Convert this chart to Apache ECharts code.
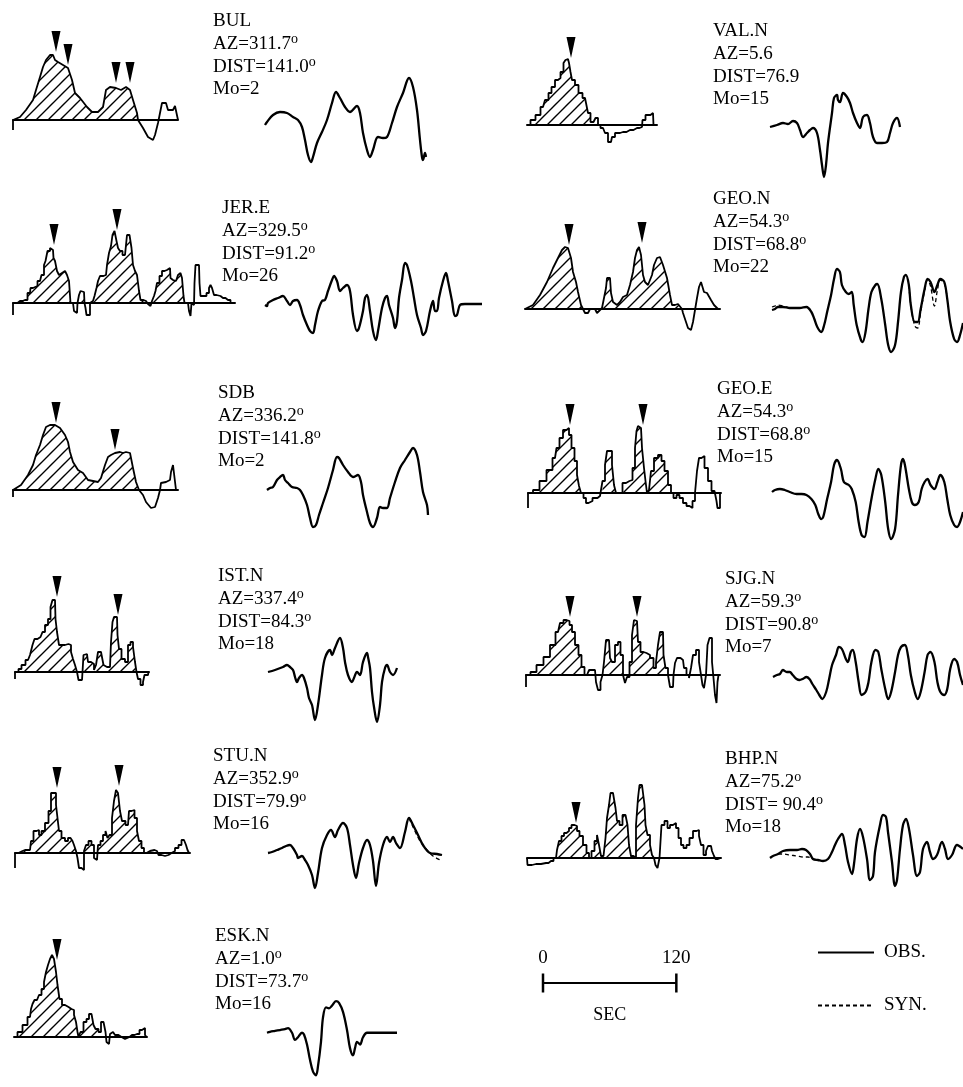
<!DOCTYPE html>
<html><head><meta charset="utf-8">
<script src="https://cdn.jsdelivr.net/npm/echarts@6/dist/echarts.min.js"></script>
<style>html,body{margin:0;padding:0;background:#fff}#c{width:963px;height:1087px}</style>
</head><body><div id="c"></div>
<script>
// ---------- DATA ----------
// time values are in digitizing ticks of TICK_SEC seconds; amplitudes are relative units
const TICK_SEC = 0.9;
const STATION = ['BUL','JER.E','SDB','IST.N','STU.N','ESK.N','VAL.N','GEO.N','GEO.E','SJG.N','BHP.N'];
const AZ   = ['311.7','329.5','336.2','337.4','352.9','1.0','5.6','54.3','54.3','59.3','75.2'];
const DIST = ['141.0','91.2','141.8','84.3','79.9','73.7','76.9','68.8','68.8','90.8',' 90.4'];
const MO   = ['2','26','2','18','16','16','15','22','15','7','18'];
const DEG  = [1,1,1,1,1,1,0,1,1,1,1];
const HATCH_END = [125,171,126,122,130,86,65,157,144,143,128];

const STF_BUL = [[0,-10],[0,0],[7,3],[13,10],[20,20],[23,30],[27,43],[30,53],[33,60],[37,65],[40,65],[42,60],[45,58],[50,55],[55,52],[59,40],[62,27],[67,22],[74,13],[79,8],[85,8],[90,13],[93,30],[97,33],[103,32],[108,30],[113,33],[117,30],[120,20],[124,7],[125,0],[130,-8],[135,-17],[140,-20],[142,-15],[145,-3],[147,7],[149,17],[153,17],[155,10],[160,10],[162,14],[164,14],[165,0]];
const STF_JER = [[0,-12],[0,0],[2,0],[7,2],[12,3],[17,10],[18,15],[22,17],[27,22],[30,28],[32,38],[33,42],[36,52],[38,55],[40,53],[41,45],[43,42],[45,32],[47,28],[49,30],[51,32],[53,32],[55,28],[57,22],[58,0],[60,0],[62,-8],[64,-10],[65,0],[67,8],[68,12],[71,11],[72,0],[73,-5],[74,-12],[77,-12],[77,0],[80,2],[83,7],[84,15],[86,22],[88,27],[93,28],[95,38],[97,50],[99,57],[100,68],[103,72],[104,62],[106,55],[108,52],[111,48],[113,47],[115,68],[118,68],[119,55],[121,38],[123,32],[125,28],[127,12],[128,3],[133,2],[137,-1],[138,-3],[140,2],[142,7],[143,12],[145,20],[148,27],[150,32],[153,33],[155,32],[157,35],[158,25],[160,23],[163,22],[167,28],[168,30],[170,25],[171,7],[172,0],[175,0],[177,-8],[178,-13],[179,0],[181,-2],[182,20],[183,38],[186,38],[187,20],[188,7],[192,7],[195,10],[197,15],[198,18],[200,15],[202,8],[205,7],[210,5],[215,3],[220,0],[222,0]];
const STF_SDB = [[0,-7],[0,0],[2,0],[8,5],[15,15],[20,25],[23,35],[27,45],[30,55],[33,63],[37,65],[42,65],[47,62],[52,55],[55,48],[57,38],[60,28],[65,20],[70,17],[75,10],[80,9],[85,8],[88,12],[92,25],[95,33],[98,35],[102,37],[107,38],[110,37],[113,38],[117,37],[120,22],[123,8],[126,0],[130,-5],[133,-12],[138,-18],[142,-17],[145,-8],[147,0],[148,7],[153,8],[157,10],[158,18],[160,25],[162,25],[163,0],[165,0]];
const STF_IST = [[0,-7],[0,0],[2,0],[5,3],[8,7],[13,12],[17,17],[18,27],[21,33],[24,35],[27,33],[28,40],[32,47],[34,53],[37,65],[38,72],[40,72],[41,53],[43,40],[45,27],[48,27],[52,28],[55,27],[57,20],[59,13],[61,7],[63,0],[64,-8],[67,-8],[68,0],[69,17],[72,18],[74,10],[78,8],[80,2],[82,7],[84,20],[88,22],[89,7],[92,5],[95,5],[97,30],[98,50],[100,55],[102,55],[103,37],[105,23],[108,13],[112,10],[114,27],[117,30],[119,25],[121,10],[122,0],[124,-7],[127,-13],[129,-10],[130,-3],[133,-3],[134,0]];
const STF_STU = [[0,-15],[0,0],[2,0],[5,2],[10,3],[15,3],[17,12],[20,22],[23,23],[25,18],[28,22],[32,30],[35,42],[37,60],[40,60],[42,48],[43,35],[45,22],[48,15],[52,12],[54,15],[57,17],[58,12],[60,8],[62,2],[63,-5],[65,-15],[68,-17],[70,2],[72,8],[75,12],[78,8],[80,-5],[82,-7],[84,8],[87,12],[89,18],[92,22],[93,15],[96,18],[98,35],[100,52],[102,63],[104,60],[106,42],[108,32],[113,28],[115,42],[118,43],[121,35],[123,22],[125,12],[128,5],[130,0],[133,2],[137,3],[142,2],[145,-2],[148,-3],[152,-2],[155,0],[158,2],[162,5],[165,8],[168,13],[170,15],[172,8],[173,3],[175,0]];
const STF_ESK = [[0,0],[1,0],[6,5],[11,12],[16,20],[18,28],[19,33],[22,37],[24,35],[26,42],[29,48],[31,55],[33,65],[35,72],[37,78],[39,82],[41,78],[43,65],[44,52],[47,38],[49,32],[53,30],[56,28],[59,27],[61,22],[63,15],[64,5],[65,0],[68,5],[71,15],[74,18],[76,23],[79,23],[80,12],[83,8],[86,5],[88,15],[91,15],[92,5],[93,-5],[95,-7],[97,3],[99,5],[103,2],[106,0],[109,-2],[113,0],[118,2],[123,3],[128,7],[130,9],[132,2],[133,0]];
const STF_VAL = [[0,0],[1,0],[6,5],[11,10],[16,18],[20,25],[23,32],[26,38],[30,45],[32,47],[35,53],[38,62],[39,65],[41,66],[43,62],[44,53],[46,45],[50,40],[53,32],[58,27],[60,22],[62,12],[65,3],[68,2],[69,7],[71,7],[71,0],[76,-3],[80,-8],[82,-17],[84,-17],[86,-12],[90,-8],[96,-7],[103,-5],[110,-3],[115,-2],[116,5],[121,10],[126,12],[127,0],[130,0]];
const STF_GEON = [[0,0],[2,0],[8,4],[15,14],[22,27],[28,41],[33,51],[37,59],[40,62],[43,61],[46,51],[48,37],[51,27],[53,17],[56,4],[58,0],[60,-4],[63,-4],[65,0],[70,0],[72,-4],[74,-4],[77,1],[79,11],[81,21],[82,31],[85,31],[86,16],[88,7],[92,4],[95,7],[98,12],[102,14],[105,24],[108,37],[110,51],[112,59],[114,62],[116,54],[118,34],[120,27],[123,24],[127,34],[129,44],[132,51],[135,52],[138,44],[142,31],[145,14],[147,4],[150,4],[153,5],[157,0],[158,-4],[161,-13],[163,-19],[166,-21],[168,-13],[170,-1],[172,11],[174,22],[176,27],[179,17],[182,16],[186,9],[189,4],[193,0],[195,0]];
const STF_GEOE = [[0,-15],[0,0],[2,0],[8,3],[15,12],[22,23],[27,35],[30,45],[33,55],[37,63],[40,65],[42,58],[45,45],[48,32],[50,18],[52,7],[54,0],[57,-5],[59,-10],[62,-8],[67,-5],[72,-3],[73,0],[76,12],[78,28],[80,42],[83,42],[85,28],[87,8],[89,0],[93,0],[96,10],[100,12],[103,13],[106,25],[108,45],[109,62],[111,67],[113,65],[115,45],[117,25],[118,12],[120,0],[122,3],[124,22],[128,35],[132,38],[135,32],[138,22],[142,8],[144,0],[147,-5],[150,-2],[153,-5],[157,-10],[160,-13],[163,-15],[166,-8],[168,0],[170,22],[172,35],[175,37],[178,25],[182,12],[185,2],[188,0],[189,-8],[190,-15],[192,-15],[192,0],[193,0]];
const STF_SJG = [[0,-12],[0,0],[2,0],[7,3],[14,10],[21,18],[27,30],[32,43],[36,52],[39,55],[42,54],[45,50],[47,43],[51,30],[54,20],[57,8],[60,0],[62,-2],[64,5],[69,5],[71,-7],[73,-15],[76,-7],[77,0],[79,13],[81,35],[83,35],[85,17],[87,13],[91,30],[93,33],[96,20],[98,0],[100,-8],[102,-2],[105,13],[107,40],[109,55],[111,54],[113,33],[116,23],[119,22],[122,20],[126,17],[129,7],[131,13],[133,30],[135,43],[137,43],[138,20],[141,7],[143,0],[145,-12],[147,-12],[148,0],[150,12],[152,17],[157,15],[159,7],[162,0],[164,-3],[166,7],[168,20],[172,25],[174,13],[176,0],[177,-10],[179,-13],[181,0],[182,30],[185,37],[187,13],[188,-3],[190,-20],[191,-28],[192,-7],[193,0],[194,0]];
const STF_BHP = [[0,0],[1,-7],[9,-6],[19,-5],[24,-3],[29,0],[31,8],[33,17],[36,22],[38,25],[41,27],[43,30],[46,33],[49,32],[51,27],[54,22],[58,13],[61,5],[63,0],[66,7],[69,17],[71,23],[73,13],[75,2],[78,0],[79,20],[81,40],[83,53],[84,65],[88,65],[89,50],[91,37],[94,33],[97,43],[100,43],[101,33],[103,13],[105,2],[108,0],[110,33],[112,60],[113,73],[117,73],[118,53],[119,33],[122,23],[124,13],[126,3],[128,0],[129,-7],[132,-10],[133,0],[136,33],[139,37],[142,30],[144,33],[148,35],[150,30],[153,20],[155,13],[158,10],[161,13],[164,20],[168,27],[171,28],[173,22],[175,13],[178,3],[180,7],[182,12],[184,12],[186,7],[188,2],[189,-1],[193,-1],[194,0]];

const ARROWS_BUL = [[43,68],[55,55],[103,37],[117,37]];
const ARROWS_JER = [[41,58],[104,73]];
const ARROWS_SDB = [[43,67],[102,40]];
const ARROWS_IST = [[42,75],[103,57]];
const ARROWS_STU = [[42,65],[104,67]];
const ARROWS_ESK = [[43,77]];
const ARROWS_VAL = [[44,67]];
const ARROWS_GEON = [[44,64],[117,66]];
const ARROWS_GEOE = [[42,68],[115,68]];
const ARROWS_SJG = [[44,58],[111,58]];
const ARROWS_BHP = [[49,35]];

const OBS_BUL = [[0,-3],[2,0],[8,7],[15,10],[22,9],[28,5],[33,2],[37,-5],[40,-18],[43,-33],[46,-40],[48,-35],[52,-21],[57,-10],[62,2],[67,19],[71,30],[75,24],[80,15],[85,10],[92,16],[95,9],[98,-11],[102,-28],[105,-35],[108,-28],[113,-15],[118,-16],[122,-15],[127,-1],[132,15],[138,29],[144,44],[148,35],[152,12],[155,-18],[157,-35],[158,-38],[160,-31],[161,-35]];
const OBS_JER = [[0,-1],[2,-2],[3,1],[8,4],[13,6],[18,8],[22,3],[25,-1],[28,3],[32,4],[35,-1],[38,-11],[42,-21],[45,-27],[48,-29],[50,-21],[53,-7],[57,3],[60,4],[63,13],[67,24],[69,28],[72,23],[75,13],[78,16],[82,19],[85,13],[88,-11],[92,-27],[94,-24],[98,-7],[100,6],[102,9],[105,-7],[108,-27],[111,-36],[113,-27],[117,-4],[120,6],[122,8],[124,-1],[128,-14],[130,-24],[132,-17],[134,6],[137,24],[140,41],[142,39],[146,23],[149,6],[152,-11],[156,-24],[158,-31],[161,-27],[165,-7],[168,3],[170,-7],[172,-7],[174,6],[178,23],[181,31],[183,23],[187,3],[190,-12],[192,-11],[195,-1],[200,0],[217,0]];
const OBS_SDB = [[0,0],[3,2],[6,3],[10,10],[13,13],[16,15],[18,10],[21,7],[25,3],[30,2],[33,0],[36,-5],[40,-15],[43,-28],[46,-37],[49,-35],[52,-25],[56,-13],[61,2],[66,20],[70,33],[72,32],[76,25],[81,18],[86,13],[91,15],[94,8],[96,-5],[100,-22],[103,-33],[106,-37],[110,-28],[113,-17],[116,-18],[120,-18],[123,-8],[128,8],[133,22],[138,30],[143,38],[146,42],[150,35],[153,18],[156,-2],[160,-15],[161,-25]];
const OBS_IST = [[0,0],[7,2],[15,5],[19,7],[22,5],[25,2],[27,-5],[29,-10],[31,-6],[34,-3],[36,-6],[39,-16],[41,-26],[44,-33],[47,-48],[50,-33],[54,-3],[57,14],[62,22],[64,17],[67,24],[72,34],[75,24],[77,10],[80,-3],[84,-10],[86,-6],[89,0],[92,-3],[95,10],[99,19],[100,15],[102,4],[104,-20],[106,-35],[109,-50],[112,-33],[114,-10],[117,4],[119,7],[122,0],[125,-3],[129,4]];
const OBS_STU = [[0,0],[4,1],[9,3],[14,5],[18,7],[22,8],[25,5],[29,-2],[30,-5],[34,-3],[37,-7],[40,-12],[44,-22],[47,-35],[50,-20],[54,5],[59,18],[63,23],[67,16],[70,23],[75,30],[79,25],[82,8],[85,-12],[88,-25],[91,-10],[95,5],[99,13],[102,8],[105,-8],[108,-33],[111,-10],[115,8],[119,16],[122,11],[125,16],[128,10],[132,5],[137,21],[141,35],[145,28],[150,18],[155,8],[162,0],[169,-1],[174,-2]];
const OBS_ESK = [[0,0],[3,1],[8,2],[13,3],[18,4],[21,5],[25,0],[28,-8],[31,-5],[35,0],[37,-2],[40,-13],[43,-30],[46,-43],[49,-47],[51,-37],[54,-10],[56,17],[59,28],[62,27],[65,30],[69,35],[72,33],[76,23],[80,3],[83,-17],[86,-25],[88,-17],[90,-10],[93,-13],[96,-5],[100,0],[130,0]];
const OBS_VAL = [[0,0],[7,2],[13,4],[18,3],[23,6],[27,4],[30,-3],[33,-10],[37,-6],[40,-3],[43,-1],[47,-6],[50,-23],[52,-38],[54,-50],[56,-38],[58,-16],[62,14],[64,29],[67,32],[68,27],[70,25],[73,34],[77,30],[80,24],[83,14],[87,4],[90,-1],[93,10],[97,12],[100,4],[103,-10],[107,-16],[112,-16],[117,-15],[120,-6],[123,4],[127,9],[130,0]];
const OBS_GEON = [[0,-2],[3,-1],[6,1],[11,1],[18,0],[28,0],[35,1],[40,-4],[43,-11],[46,-19],[50,-24],[53,-17],[56,-4],[60,13],[63,29],[66,39],[69,36],[71,23],[75,16],[78,14],[81,16],[83,3],[86,-17],[90,-31],[92,-34],[95,-24],[98,-1],[101,16],[105,23],[107,24],[111,9],[115,-17],[118,-37],[121,-44],[125,-37],[128,-14],[131,16],[134,31],[136,33],[139,23],[141,3],[145,-14],[148,-14],[151,-1],[155,19],[158,29],[161,26],[165,16],[168,23],[171,29],[175,26],[178,9],[181,-14],[185,-31],[188,-34],[191,-27],[194,-15]];
const OBS_GEOE = [[0,0],[3,2],[8,3],[13,2],[18,0],[25,-2],[30,-2],[35,-3],[40,-7],[44,-13],[47,-22],[50,-27],[52,-25],[56,-7],[60,10],[63,27],[66,32],[70,23],[73,10],[78,7],[81,3],[85,-10],[88,-30],[91,-43],[94,-45],[97,-30],[101,-7],[105,13],[108,23],[111,17],[115,-10],[118,-37],[121,-47],[125,-37],[128,-3],[131,27],[133,33],[135,27],[139,3],[142,-10],[145,-13],[149,-10],[152,3],[155,10],[158,13],[161,7],[165,3],[168,10],[171,17],[175,10],[178,-7],[181,-23],[185,-33],[188,-35],[191,-30],[194,-20]];
const OBS_SJG = [[0,0],[4,2],[7,3],[10,7],[14,5],[17,5],[20,2],[24,-2],[27,-3],[30,-2],[34,0],[37,-2],[40,-7],[44,-13],[47,-18],[50,-22],[54,-15],[57,-2],[60,12],[64,22],[67,30],[70,28],[74,18],[76,15],[79,25],[81,27],[84,15],[87,-5],[90,-18],[94,-15],[97,-5],[100,15],[104,27],[107,25],[110,8],[114,-12],[117,-22],[120,-15],[124,5],[127,22],[130,30],[134,32],[137,22],[140,2],[144,-15],[147,-22],[150,-15],[154,5],[157,22],[160,25],[164,15],[167,-5],[170,-15],[174,-18],[177,-12],[180,8],[184,18],[187,15],[190,2],[193,-8]];
const OBS_BHP = [[0,0],[3,2],[8,4],[13,7],[20,8],[27,8],[32,9],[36,8],[40,4],[43,-1],[48,-2],[53,-3],[58,-1],[62,6],[65,13],[68,19],[72,24],[75,13],[78,-4],[82,-16],[84,-6],[87,19],[90,29],[93,21],[97,-1],[100,-22],[103,-18],[105,6],[110,33],[113,43],[116,41],[118,26],[122,-4],[125,-28],[127,-22],[130,9],[133,33],[136,39],[139,29],[143,3],[147,-18],[150,-14],[153,9],[157,16],[160,6],[163,-1],[167,3],[172,16],[175,9],[178,-1],[182,3],[187,13],[193,9]];

const SYN_GEON = [[[0,1],[3,2],[6,3],[11,2],[18,0]],[[139,23],[141,3],[145,-18],[148,-20],[151,-4],[155,17],[158,28],[161,22],[165,2],[168,18],[171,28],[175,25],[178,9]]];
const SYN_STU = [[[141,35],[145,26],[152,12],[159,3],[165,-3],[172,-7],[174,-8]]];
const SYN_BHP = [[[8,4],[13,4],[20,3],[27,2],[33,1],[38,1],[43,-1]]];

const SCALE_TICKS = [0, 120]; // seconds

// ---------- LAYOUT / STYLE ----------
const PX_PER_SEC = 1 / TICK_SEC;
// [stfX, stfBaseY, waveX, waveBaseY, textX, textCapTop, stepped]
const LAYOUT = {
  'BUL':  [13,120,265,122,213,16,0],
  'JER.E':[13,303,265,304,222,203,1],
  'SDB':  [13,490,267,490,218,388,0],
  'IST.N':[15,672,268,672,218,571,1],
  'STU.N':[15,853,268,853,213,751,1],
  'ESK.N':[14,1037,267,1038,215,931,1],
  'VAL.N':[527,125,770,127,713,26,1],
  'GEO.N':[525,309,772,308,713,194,0],
  'GEO.E':[528,493,772,492,717,384,1],
  'SJG.N':[526,675,773,677,725,574,1],
  'BHP.N':[527,858,770,858,725,754,1]
};
const STF = {'BUL':STF_BUL,'JER.E':STF_JER,'SDB':STF_SDB,'IST.N':STF_IST,'STU.N':STF_STU,'ESK.N':STF_ESK,'VAL.N':STF_VAL,'GEO.N':STF_GEON,'GEO.E':STF_GEOE,'SJG.N':STF_SJG,'BHP.N':STF_BHP};
const ARROWS = {'BUL':ARROWS_BUL,'JER.E':ARROWS_JER,'SDB':ARROWS_SDB,'IST.N':ARROWS_IST,'STU.N':ARROWS_STU,'ESK.N':ARROWS_ESK,'VAL.N':ARROWS_VAL,'GEO.N':ARROWS_GEON,'GEO.E':ARROWS_GEOE,'SJG.N':ARROWS_SJG,'BHP.N':ARROWS_BHP};
const OBS = {'BUL':OBS_BUL,'JER.E':OBS_JER,'SDB':OBS_SDB,'IST.N':OBS_IST,'STU.N':OBS_STU,'ESK.N':OBS_ESK,'VAL.N':OBS_VAL,'GEO.N':OBS_GEON,'GEO.E':OBS_GEOE,'SJG.N':OBS_SJG,'BHP.N':OBS_BHP};
const SYN = {'GEO.N':SYN_GEON,'STU.N':SYN_STU,'BHP.N':SYN_BHP};

const FONT = 'Liberation Serif';
const STF_Y = [-30, 110];
const WAVE_Y = [-60, 55];

function hatchPattern(){
  const s = 12, c = document.createElement('canvas');
  c.width = s; c.height = s;
  const g = c.getContext('2d');
  g.strokeStyle = '#000'; g.lineWidth = 1.4; g.lineCap = 'square';
  g.beginPath();
  g.moveTo(-2, s+2); g.lineTo(s+2, -2);
  g.moveTo(-2, 2); g.lineTo(2, -2);
  g.moveTo(s-2, s+2); g.lineTo(s+2, s-2);
  g.stroke();
  return c;
}
const HATCH = {image: hatchPattern(), repeat: 'repeat'};
const toSec = arr => arr.map(d => [d[0]*TICK_SEC, d[1]]);

const grid = [], xAxis = [], yAxis = [], series = [], title = [];
function addGrid(x0, baseY, tMax, yr, showBase){
  const gi = grid.length;
  grid.push({left: x0, top: baseY - yr[1], width: tMax*PX_PER_SEC, height: yr[1]-yr[0]});
  xAxis.push({gridIndex: gi, type:'value', min:0, max:tMax, show: !!showBase,
    axisLine:{show: !!showBase, onZero:true, lineStyle:{color:'#000', width:2}},
    axisTick:{show:false}, axisLabel:{show:false}, splitLine:{show:false}});
  yAxis.push({gridIndex: gi, type:'value', min:yr[0], max:yr[1], show:false, splitLine:{show:false}});
  return gi;
}

STATION.forEach((name, i) => {
  const L = LAYOUT[name];
  // source time function
  const stf = toSec(STF[name]);
  const tMax = stf[stf.length-1][0];
  const g1 = addGrid(L[0], L[1], tMax, STF_Y, true);
  const step = L[6] ? 'middle' : false;
  const hatchData = STF[name].filter(d => d[0] <= HATCH_END[i]).map(d => [d[0]*TICK_SEC, Math.max(0, d[1])]);
  series.push({type:'line', name: name+' hatch', xAxisIndex:g1, yAxisIndex:g1, data:hatchData, step:step,
    symbol:'none', silent:true, lineStyle:{width:0, opacity:0}, areaStyle:{color:HATCH, opacity:1}, z:1});
  series.push({type:'line', name: name+' STF', xAxisIndex:g1, yAxisIndex:g1, data:stf, step:step,
    symbol:'none', silent:true, lineStyle:{color:'#000', width:1.8}, z:3});
  series.push({type:'scatter', name: name+' peaks', xAxisIndex:g1, yAxisIndex:g1, data:toSec(ARROWS[name]),
    symbol:'path://M0,0L10,0L5,24Z', symbolSize:[9,21], symbolOffset:[0,-10.5], clip:false, silent:true,
    itemStyle:{color:'#000', opacity:1}, z:4});
  // waveforms
  const obs = toSec(OBS[name]);
  const g2 = addGrid(L[2], L[3], obs[obs.length-1][0], WAVE_Y, false);
  series.push({type:'line', name:'OBS.', xAxisIndex:g2, yAxisIndex:g2, data:obs, smooth:0.35,
    symbol:'none', silent:true, itemStyle:{color:'#000'}, lineStyle:{color:'#000', width:2.3}, z:3});
  (SYN[name] || []).forEach(seg => {
    series.push({type:'line', name:'SYN.', xAxisIndex:g2, yAxisIndex:g2, data:toSec(seg), smooth:0.35,
      symbol:'none', silent:true, itemStyle:{color:'#000'}, lineStyle:{color:'#000', width:1.3, type:[4,3]}, z:2});
  });
  // labels
  const sup = DEG[i] ? '{s|o}' : '';
  title.push({
    text: [name, 'AZ=' + AZ[i] + sup, 'DIST=' + DIST[i] + sup, 'Mo=' + MO[i]].join('\n'),
    left: L[4], top: L[5] - 6, padding: 0,
    textStyle:{fontFamily:FONT, fontSize:19, fontWeight:'normal', color:'#000', lineHeight:22.7,
      rich:{s:{fontFamily:FONT, fontSize:14, color:'#000', verticalAlign:'top', lineHeight:12}}}
  });
});

// scale bar
const gs = addGrid(543, 983, SCALE_TICKS[1], [-1, 1], false);
xAxis[gs].show = true;
xAxis[gs].axisLine = {show:false};
xAxis[gs].name = 'SEC';
xAxis[gs].nameLocation = 'middle';
xAxis[gs].nameGap = 22;
xAxis[gs].nameTextStyle = {fontFamily:FONT, fontSize:18, color:'#000'};
series.push({type:'line', name:'scale', xAxisIndex:gs, yAxisIndex:gs, data:SCALE_TICKS.map(t => [t, 0]),
  symbol:'rect', symbolSize:[2.5, 19], silent:true, clip:false,
  lineStyle:{color:'#000', width:2.2}, itemStyle:{color:'#000'},
  label:{show:true, position:'top', distance:6, formatter: p => String(p.value[0]),
    fontFamily:FONT, fontSize:19, color:'#000'}});

const legendBase = {itemWidth:56, itemHeight:12, selectedMode:false, padding:0,
  itemStyle:{opacity:0},
  textStyle:{fontFamily:FONT, fontSize:19, color:'#000', padding:[0,0,0,5]}};
const option = {
  animation:false, backgroundColor:'#fff',
  title, grid, xAxis, yAxis, series,
  legend:[Object.assign({data:['OBS.'], left:817, top:943}, legendBase),
          Object.assign({data:['SYN.'], left:817, top:996}, legendBase)]
};
const chart = echarts.init(document.getElementById('c'), null, {renderer:'canvas'});
chart.setOption(option);
</script></body></html>
